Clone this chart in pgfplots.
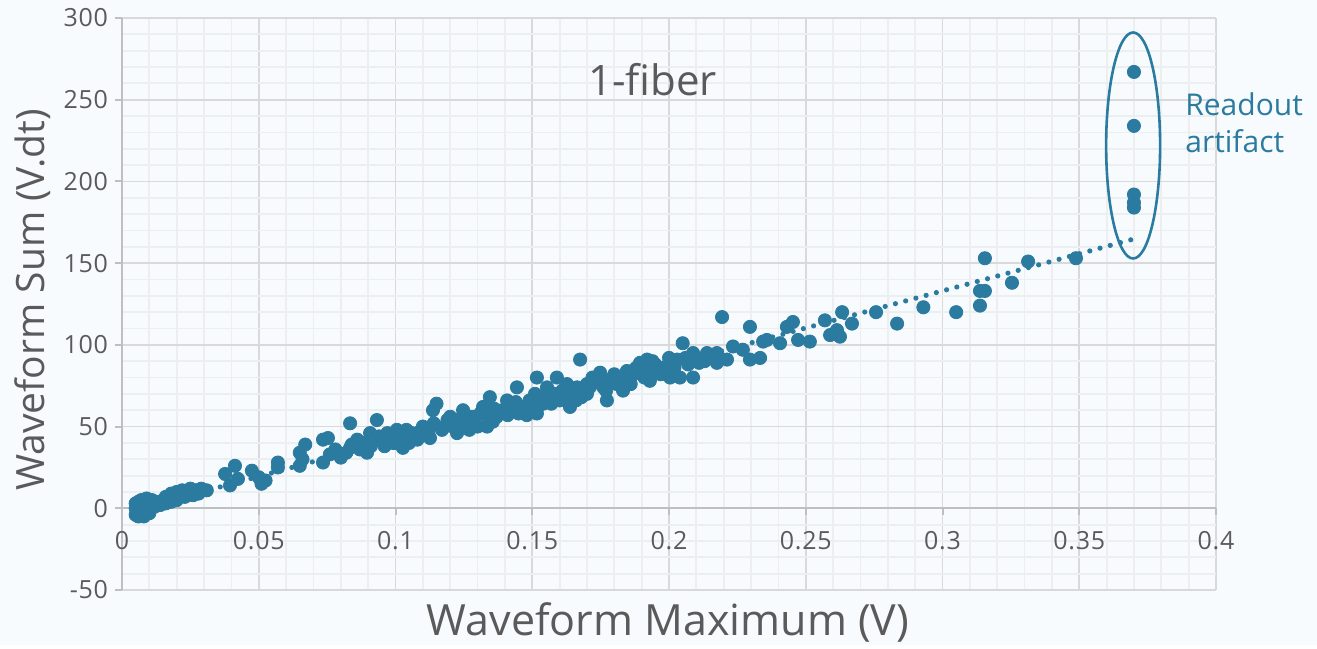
\documentclass[border=0pt]{standalone}
\usepackage{fontspec}
\setmainfont{Open Sans}
\usepackage{pgfplots}
\pgfplotsset{compat=1.18}
\definecolor{Dot}{HTML}{2B7BA0}
\definecolor{Txt}{HTML}{5A5A5A}
\definecolor{Bg}{HTML}{F7FBFD}
\definecolor{GridMaj}{HTML}{D9D9D9}
\definecolor{GridMin}{HTML}{EDEEEF}
\definecolor{AxisC}{HTML}{BFBFBF}

\begin{document}
\begin{tikzpicture}
\fill[Bg] (0pt,0pt) rectangle (658.5pt,322.5pt);
\begin{axis}[
  at={(61pt,27.5pt)},anchor=south west,
  width=547pt,height=286pt,scale only axis,
  xmin=0,xmax=0.4,ymin=-50,ymax=300,
  axis x line=middle,axis y line=left,
  hide obscured x ticks=false,hide obscured y ticks=false,
  x axis line style={-,draw=AxisC,line width=1pt},
  y axis line style={-,draw=AxisC,line width=1pt},
  xtick={0,0.05,0.1,0.15,0.2,0.25,0.3,0.35,0.4},
  xticklabels={0,0.05,0.1,0.15,0.2,0.25,0.3,0.35,0.4},
  ytick={-50,0,50,100,150,200,250,300},
  yticklabels={-50,0,50,100,150,200,250,300},
  minor x tick num=4,minor y tick num=4,
  grid=both,
  major grid style={draw=GridMaj,line width=0.9pt},
  minor grid style={draw=GridMin,line width=0.9pt},
  tick align=outside,major tick length=3.5pt,minor tick length=0pt,
  tick style={draw=AxisC,line width=1pt},
  tick label style={font=\fontsize{12.5}{14}\selectfont\addfontfeatures{LetterSpace=3},text=Txt},
  xticklabel style={yshift=-4.5pt},
  clip=false
]
% linear trendline
\addplot[Dot,line width=2.6pt,line cap=round,dash pattern=on 0pt off 5.3pt] coordinates {(0.006,-0.5)(0.37,164.8)};

\addplot[only marks,mark=*,mark size=3.3pt,Dot] coordinates {
  (0.005,-4)(0.005,0)(0.005,3)(0.006,-5)(0.006,-2)(0.006,1)(0.006,4)(0.007,-4)(0.007,0)(0.007,2)
  (0.007,5)(0.008,-3)(0.008,1)(0.008,4)(0.008,-5)(0.009,-1)(0.009,3)(0.009,6)(0.010,0)(0.010,4)
  (0.010,-3)(0.011,2)(0.011,5)(0.012,1)(0.012,4)(0.013,3)
  (0.014,2)(0.015,5)(0.016,7)(0.016,3)(0.017,6)(0.018,9)(0.018,4)(0.019,7)(0.020,10)(0.020,5)
  (0.021,8)(0.022,11)(0.023,7)(0.024,9)(0.025,12)(0.026,8)(0.027,11)(0.028,9)(0.029,12)(0.031,11)
  (0.0377,21)(0.0413,26)(0.0395,14)(0.0424,18)(0.0475,23)(0.051,15)(0.050,19)(0.0525,17)(0.057,28)(0.057,25)
  (0.065,34)(0.067,39)(0.065,26)(0.066,30)(0.0735,42)(0.0753,43)(0.0735,28)(0.0786,34)(0.0834,52)(0.0834,37)
  (0.080,31)(0.076,33)(0.078,36)(0.082,34)(0.084,39)(0.086,42)(0.087,36)(0.0896,34)(0.0907,46)
  (0.088,40)(0.091,38)(0.094,44)(0.097,46)(0.100,40)
  (0.0932,54)(0.0943,42)(0.096,38)(0.098,43)(0.099,40)(0.1005,48)(0.102,44)(0.104,48)(0.1027,37)(0.106,46)
  (0.108,42)(0.110,50)(0.1126,43)(0.115,64)(0.1137,60)(0.117,48)(0.119,54)(0.120,56)(0.1225,46)(0.1247,60)
  (0.126,52)(0.128,56)(0.130,50)(0.131,58)(0.112,46)(0.118,50)(0.123,52)(0.127,48)
  (0.101,42)(0.105,40)(0.109,47)(0.114,52)(0.121,50)(0.124,55)(0.129,53)(0.133,58)(0.136,61)(0.141,57)
  (0.132,62)(0.1335,50)(0.1345,68)(0.1356,53)(0.137,56)(0.138,58)(0.1408,66)(0.142,60)(0.1444,74)(0.1466,62)
  (0.148,57)(0.150,64)(0.1517,80)(0.1517,58)(0.153,68)(0.1554,74)(0.157,64)(0.159,80)(0.160,66)(0.161,72)
  (0.1627,76)(0.1638,62)(0.1664,74)(0.1675,91)(0.168,68)(0.134,55)(0.139,60)(0.143,63)(0.145,58)(0.149,66)
  (0.152,62)(0.155,68)(0.158,70)(0.162,68)(0.165,70)
  (0.144,65)(0.147,60)(0.151,70)(0.154,64)(0.156,72)(0.159,67)(0.163,72)(0.166,66)(0.169,73)
  (0.170,70)(0.170,76)(0.172,80)(0.1748,83)(0.1773,66)(0.1795,80)(0.181,76)(0.1832,72)(0.1846,84)(0.187,82)
  (0.1894,89)(0.192,83)(0.192,91)(0.193,78)(0.1956,84)(0.198,86)(0.2004,80)(0.203,91)(0.204,80)(0.205,101)
  (0.2088,95)(0.2088,80)(0.176,74)(0.178,78)(0.183,78)(0.186,76)(0.190,84)(0.195,88)(0.200,92)(0.202,86)
  (0.207,88)(0.215,92)
  (0.171,74)(0.174,77)(0.177,72)(0.180,82)(0.185,80)(0.188,86)(0.191,80)(0.194,90)(0.197,82)(0.201,88)
  (0.206,92)(0.210,92)(0.213,90)(0.218,93)
  (0.211,89)(0.2139,95)(0.2175,95)(0.2175,89)(0.2194,117)(0.2212,91)(0.2234,99)(0.227,97)(0.2296,111)(0.2296,91)
  (0.2333,92)(0.2344,102)(0.2358,103)(0.2406,101)(0.2431,111)(0.2453,114)(0.2472,103)(0.2515,102)(0.257,115)(0.2589,106)
  (0.2614,109)(0.2625,105)(0.2633,120)(0.2669,113)
  (0.2757,120)(0.2834,113)(0.293,123)(0.305,120)(0.3137,124)(0.3137,133)(0.3155,133)(0.3155,153)(0.3254,138)(0.3313,151)
  (0.3488,153)
  (0.37,267)(0.37,234)(0.37,192)(0.37,187)(0.37,184)};

\draw[Dot,line width=1.3pt] (axis cs:0.3697,222) ellipse [x radius=13.5pt,y radius=56.5pt];
\node[text=Txt,font=\fontsize{21}{25}\selectfont] at (axis cs:0.194,262) {1-fiber};
\node[text=Dot,anchor=west,align=left,font=\fontsize{15}{18.5}\selectfont] at (axis cs:0.3862,236) {Readout\\artifact};
\end{axis}
\node[text=Txt,font=\fontsize{21.5}{25}\selectfont] at (334pt,11.5pt) {Waveform Maximum (V)};
\node[text=Txt,font=\fontsize{19.5}{22}\selectfont,rotate=90] at (16.5pt,172.5pt) {Waveform Sum (V.dt)};
\end{tikzpicture}
\end{document}
